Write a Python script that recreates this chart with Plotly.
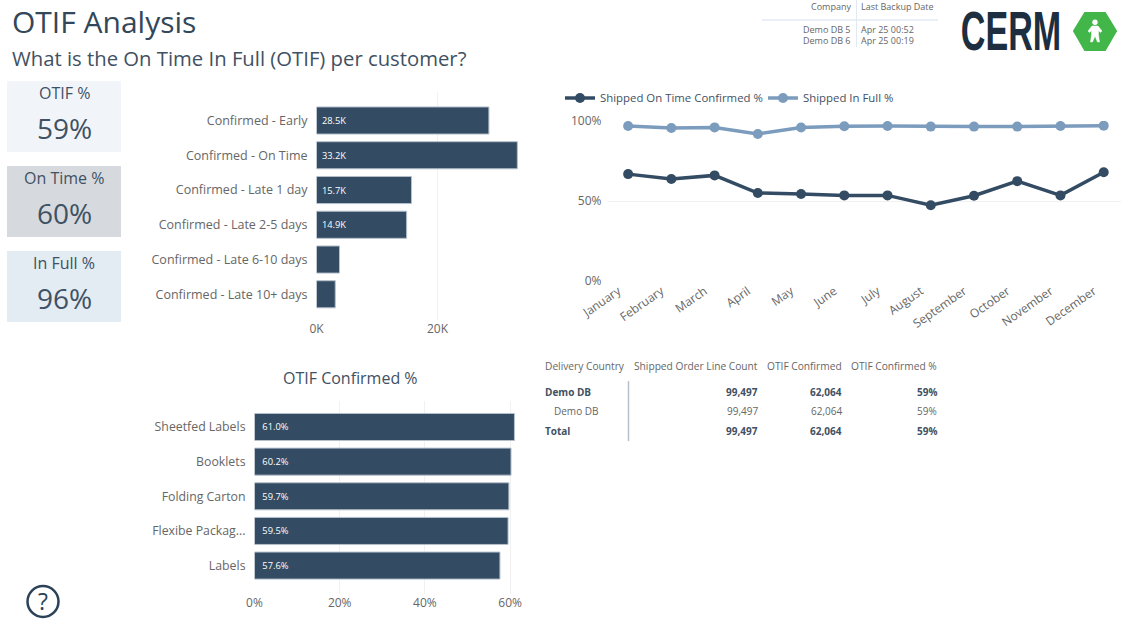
import plotly.graph_objects as go

W, H = 1123, 624
FONT = "Open Sans"
NAVY = "#344c63"
BLUE = "#7b9cbd"
TEXT = "#3f5163"
GREY = "#666666"
GRID = "#f1f1f1"

# data
status_labels = ["Confirmed - Early", "Confirmed - On Time", "Confirmed - Late 1 day",
                 "Confirmed - Late 2-5 days", "Confirmed - Late 6-10 days", "Confirmed - Late 10+ days"]
status_values = [28500, 33200, 15700, 14900, 3800, 3100]
status_text = ["28.5K", "33.2K", "15.7K", "14.9K", "", ""]

segment_labels = ["Sheetfed Labels", "Booklets", "Folding Carton", "Flexibe Packag...", "Labels"]
segment_values = [61.0, 60.2, 59.7, 59.5, 57.6]
segment_text = ["61.0%", "60.2%", "59.7%", "59.5%", "57.6%"]

months = ["January", "February", "March", "April", "May", "June", "July", "August",
          "September", "October", "November", "December"]
on_time = [66.8, 63.7, 66.0, 55.0, 54.4, 53.5, 53.5, 47.3, 53.3, 62.4, 53.5, 68.0]
in_full = [96.9, 95.6, 96.0, 91.9, 95.9, 96.7, 96.9, 96.5, 96.5, 96.5, 96.9, 97.1]

kpi_titles = ["OTIF %", "On Time %", "In Full %"]
kpi_values = ["59%", "60%", "96%"]
kpi_fills = ["#f1f5f9", "#d6dade", "#e3ebf3"]

table_header = ["Delivery Country", "Shipped Order Line Count", "OTIF Confirmed", "OTIF Confirmed %"]
table_rows = [["Demo DB", "99,497", "62,064", "59%"],
              ["Demo DB", "99,497", "62,064", "59%"],
              ["Total", "99,497", "62,064", "59%"]]

backup_header = ["Company", "Last Backup Date"]
backup_rows = [["Demo DB 5", "Apr 25 00:52"], ["Demo DB 6", "Apr 25 00:19"]]


def px(x):
    return x / W


def py(y):
    return 1 - y / H


def text(x, y, s, size=12, color=TEXT, anchor="left", bold=False, family=FONT):
    if bold:
        s = "<b>" + s + "</b>"
    fig.add_annotation(x=px(x), y=py(y), xref="paper", yref="paper", text=s, showarrow=False,
                       xanchor=anchor, yanchor="middle", align=anchor,
                       font=dict(size=size, color=color, family=family))


def rect(x0, y0, x1, y1, fill):
    fig.add_shape(type="rect", xref="paper", yref="paper", x0=px(x0), x1=px(x1), y0=py(y0), y1=py(y1),
                  fillcolor=fill, line_width=0, layer="below")


def hline(x0, y0, x1, y1, color, width=1):
    fig.add_shape(type="line", xref="paper", yref="paper", x0=px(x0), x1=px(x1), y0=py(y0), y1=py(y1),
                  line=dict(color=color, width=width))


def poly(points, fill, width=2):
    d = "M " + " L ".join(f"{px(a):.5f},{py(b):.5f}" for a, b in points) + " Z"
    fig.add_shape(type="path", xref="paper", yref="paper", path=d, fillcolor=fill,
                  line=dict(color=fill, width=width), layer="above")


def pad(labels, n=1):
    return ["\u00a0" * n + s if s else s for s in labels]


fig = go.Figure()

fig.add_trace(go.Bar(x=status_values, y=status_labels, orientation="h", text=pad(status_text),
                     textposition="inside", insidetextanchor="start", textangle=0,
                     insidetextfont=dict(size=9.3, color="white", family=FONT),
                     marker=dict(color=NAVY, line=dict(color="#b4c0cb", width=1)),
                     width=0.78, showlegend=False, xaxis="x", yaxis="y"))

fig.add_trace(go.Bar(x=segment_values, y=segment_labels, orientation="h", text=pad(segment_text, 2),
                     textposition="inside", insidetextanchor="start", textangle=0,
                     insidetextfont=dict(size=9.3, color="white", family=FONT),
                     marker=dict(color=NAVY, line=dict(color="#b4c0cb", width=1)),
                     width=0.78, showlegend=False, xaxis="x2", yaxis="y2"))

fig.add_trace(go.Scatter(x=months, y=on_time, mode="lines+markers", name="Shipped On Time Confirmed %",
                         line=dict(color=NAVY, width=3.5), marker=dict(color=NAVY, size=10),
                         xaxis="x3", yaxis="y3"))
fig.add_trace(go.Scatter(x=months, y=in_full, mode="lines+markers", name="Shipped In Full %",
                         line=dict(color=BLUE, width=3.5), marker=dict(color=BLUE, size=10),
                         xaxis="x3", yaxis="y3"))

fig.update_layout(
    width=W, height=H, margin=dict(l=0, r=0, t=0, b=0, autoexpand=False),
    paper_bgcolor="white", plot_bgcolor="white",
    font=dict(family=FONT, size=12, color=GREY),
    legend=dict(orientation="h", x=px(560), y=py(98), xanchor="left", yanchor="middle",
                font=dict(size=11.4, color=TEXT), itemwidth=30, entrywidth=158, entrywidthmode="pixels",
                tracegroupgap=0, bgcolor="rgba(0,0,0,0)"),
    xaxis=dict(domain=[px(316.5), px(520)], range=[0, 33640], tickvals=[0, 20000], ticktext=["0K", "20K"],
               anchor="y", showgrid=True, gridcolor=GRID, zeroline=False, showline=False, ticks="",
               automargin=False, tickfont=dict(size=12, color=GREY)),
    yaxis=dict(domain=[py(320), py(92)], type="category", categoryorder="array", categoryarray=status_labels,
               range=[5.74, -0.82], anchor="x", showgrid=False, showline=False, ticks="", ticklabelstandoff=8,
               automargin=False, tickfont=dict(size=12.5, color=GREY)),
    xaxis2=dict(domain=[px(254.5), px(517)], range=[0, 61.6], tickvals=[0, 20, 40, 60],
                ticktext=["0%", "20%", "40%", "60%"], anchor="y2", showgrid=True, gridcolor=GRID,
                zeroline=False, showline=False, ticks="", automargin=False, tickfont=dict(size=12, color=GREY)),
    yaxis2=dict(domain=[py(594), py(401)], type="category", categoryorder="array", categoryarray=segment_labels,
                range=[4.82, -0.75], anchor="x2", showgrid=False, showline=False, ticks="", ticklabelstandoff=8,
                automargin=False, tickfont=dict(size=12.3, color=GREY)),
    xaxis3=dict(domain=[px(606.5), px(1121)], range=[-0.5, 11.4], type="category", anchor="y3", showgrid=False,
                zeroline=False, showline=False, ticks="", tickangle=-35, automargin=False, ticklabelshift=-10,
                tickfont=dict(size=12, color=GREY)),
    yaxis3=dict(domain=[py(281), py(121)], range=[0, 100], tickvals=[0, 50, 100],
                ticktext=["0%", "50%", "100%"], anchor="x3", showgrid=True, gridcolor=GRID, zeroline=False,
                showline=False, ticks="", automargin=False, ticklabelstandoff=4, tickfont=dict(size=12, color=GREY)),
)

# headings
text(10, 22, "OTIF Analysis", size=30, color="#33475a")
text(10, 58, "What is the On Time In Full (OTIF) per customer?", size=20.3)
text(350, 378, "OTIF Confirmed %", size=16, anchor="center")

# kpi cards
for i, (title, value, fill) in enumerate(zip(kpi_titles, kpi_values, kpi_fills)):
    top = 81 + i * 85
    rect(7, top, 121, top + 71, fill)
    text(64, top + 12, title, size=16, anchor="center")
    text(64, top + 46.5, value, size=28, anchor="center")

# order line table
col_x = [542.5, 759.5, 843.5, 938.5]
for j, label in enumerate(table_header):
    text(col_x[j], 366, label, size=10.2, anchor="left" if j == 0 else "right", color=GREY)
for r, (row, y) in enumerate(zip(table_rows, [392, 411, 431])):
    strong = r != 1
    for j, val in enumerate(row):
        x = col_x[j] + (9 if j == 0 and r == 1 else 0)
        text(x, y, val, size=10, anchor="left" if j == 0 else "right", bold=strong, color=TEXT if strong else GREY)
hline(628.5, 381, 628.5, 441, "#b7c0c8", 1.5)

# backup table
text(853, 7, backup_header[0], size=9, anchor="right", color=GREY)
text(859, 7, backup_header[1], size=9, color=GREY)
for row, y in zip(backup_rows, [29, 41]):
    text(853, y, row[0], size=9, anchor="right", color=GREY)
    text(859, y, row[1], size=9, color=GREY)
hline(762, 20, 938, 20, "#d5e0ec", 1)
hline(856.5, 0, 856.5, 47, "#e3e9f0", 1)

# logo, narrowed below in post_script since no condensed font is installed
text(1011, 31, "CERM", size=55, color="#1c2e3f", anchor="center", bold=True, family="Liberation Sans")
poly([(1074, 31), (1085, 13), (1105, 13), (1116, 31), (1105, 50), (1085, 50)], "#43b649")
fig.add_shape(type="circle", xref="paper", yref="paper", x0=px(1092.3), x1=px(1097.7), y0=py(19.5), y1=py(24.9),
              fillcolor="white", line_width=0)
poly([(1092, 26), (1098, 26), (1102, 31), (1100.5, 32.5), (1098.5, 30.5), (1098.5, 35), (1099.5, 42),
      (1097.5, 42), (1095, 36), (1092.5, 42), (1090.5, 42), (1091.5, 35), (1091.5, 30.5), (1089.5, 32.5), (1088, 31)],
     "white", width=0.5)

# help icon
fig.add_shape(type="circle", xref="paper", yref="paper", x0=px(27.5), x1=px(58.5), y0=py(586), y1=py(617),
              line=dict(color="#2b4257", width=2.5))
text(43, 601, "?", size=23, color="#2b4257", anchor="center")

post = """
document.body.style.margin = '0';
document.querySelectorAll('.annotation-text').forEach(function (t) {
  if (t.textContent === 'CERM') {
    t.style.transformBox = 'fill-box';
    t.style.transformOrigin = 'center';
    t.style.transform = 'scaleX(0.62)';
  }
});
"""
fig.write_html("out.html", post_script=post, config=dict(displayModeBar=False))
